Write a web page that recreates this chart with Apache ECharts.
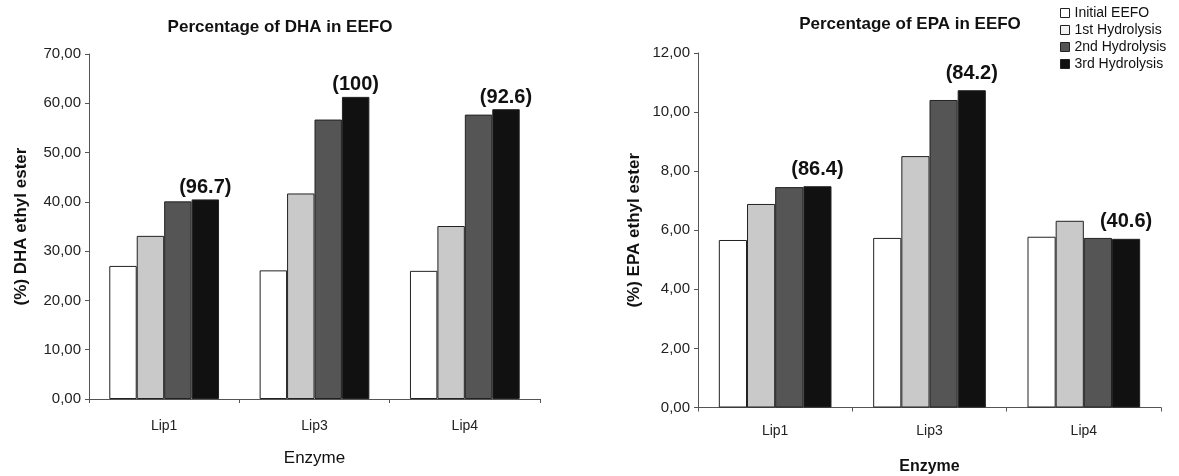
<!DOCTYPE html>
<html>
<head>
<meta charset="utf-8">
<script src="https://cdn.jsdelivr.net/npm/echarts@6/dist/echarts.min.js"></script>
<style>
  html, body { margin: 0; padding: 0; background: #fff; }
  #chart { width: 1179px; height: 476px; }
</style>
</head>
<body>
<div id="chart"></div>
<script>
// categories and series
var enzymes = ['Lip1', 'Lip3', 'Lip4'];
var seriesNames = ['Initial EEFO', '1st Hydrolysis', '2nd Hydrolysis', '3rd Hydrolysis'];

// DHA (%) ethyl ester
var dhaInitial = [27.0, 26.1, 26.0];
var dha1st = [33.1, 41.7, 35.1];
var dha2nd = [40.1, 56.7, 57.7];
var dha3rd = [40.5, 61.3, 58.8];
var dhaNotes = ['(96.7)', '(100)', '(92.6)'];

// EPA (%) ethyl ester
var epaInitial = [5.67, 5.74, 5.78];
var epa1st = [6.89, 8.51, 6.32];
var epa2nd = [7.46, 10.41, 5.74];
var epa3rd = [7.49, 10.74, 5.71];
var epaNotes = ['(86.4)', '(84.2)', '(40.6)'];

var FONT = "'Liberation Sans', Arial, sans-serif";
var fills = ['#ffffff', '#c9c9c9', '#555555', '#111111'];

var chart = echarts.init(document.getElementById('chart'));

function commaFmt(v) {
  return v.toFixed(2).replace('.', ',');
}

function yAxisFor(gridIndex, max, interval, name, gap) {
  return {
    gridIndex: gridIndex,
    type: 'value',
    min: 0,
    max: max,
    interval: interval,
    name: name,
    nameLocation: 'middle',
    nameGap: gap,
    nameTextStyle: { fontFamily: FONT, fontSize: 17, fontWeight: 'bold', color: '#111' },
    axisLine: { show: true, lineStyle: { color: '#555', width: 1 } },
    axisTick: { show: true, length: 4, lineStyle: { color: '#555' } },
    axisLabel: { margin: 8, fontFamily: FONT, fontSize: 15, color: '#222', formatter: commaFmt },
    splitLine: { show: false }
  };
}

function xAxisFor(gridIndex, bold, margin, gap) {
  return {
    gridIndex: gridIndex,
    type: 'category',
    data: enzymes,
    name: 'Enzyme',
    nameLocation: 'middle',
    nameGap: gap,
    nameTextStyle: { fontFamily: FONT, fontSize: bold ? 16 : 17, fontWeight: bold ? 'bold' : 'normal', color: '#111' },
    axisLine: { lineStyle: { color: '#555', width: 1 } },
    axisTick: { show: true, length: 4, lineStyle: { color: '#555' } },
    axisLabel: { margin: margin, fontFamily: FONT, fontSize: 14, color: '#222' }
  };
}

function barSeries(i, xi, data, notes, dist) {
  var s = {
    name: seriesNames[i],
    type: 'bar',
    xAxisIndex: xi,
    yAxisIndex: xi,
    data: data,
    barGap: '0%',
    barCategoryGap: '27%',
    itemStyle: { color: fills[i], borderColor: '#222', borderWidth: 1 }
  };
  if (notes) {
    s.label = {
      show: true,
      position: 'top',
      distance: dist,
      fontFamily: FONT,
      fontSize: 20,
      fontWeight: 'bold',
      color: '#111',
      formatter: function (p) { return notes[p.dataIndex]; }
    };
  }
  return s;
}

var option = {
  backgroundColor: '#fff',
  animation: false,
  title: [
    { text: 'Percentage of DHA in EEFO', left: 275, top: 14, textAlign: 'center',
      textStyle: { fontFamily: FONT, fontSize: 17, fontWeight: 'bold', color: '#111' } },
    { text: 'Percentage of EPA in EEFO', left: 905, top: 11, textAlign: 'center',
      textStyle: { fontFamily: FONT, fontSize: 17, fontWeight: 'bold', color: '#111' } }
  ],
  legend: {
    orient: 'vertical',
    left: 1055,
    top: 1,
    itemWidth: 9,
    itemHeight: 9,
    itemGap: 3,
    icon: 'rect',
    textStyle: { fontFamily: FONT, fontSize: 14, color: '#111' },
    data: [
      { name: seriesNames[0], itemStyle: { color: '#fff', borderColor: '#222', borderWidth: 1 } },
      { name: seriesNames[1], itemStyle: { color: '#f2f2f2', borderColor: '#222', borderWidth: 1 } },
      { name: seriesNames[2], itemStyle: { color: '#555', borderColor: '#222', borderWidth: 1 } },
      { name: seriesNames[3], itemStyle: { color: '#111', borderColor: '#222', borderWidth: 1 } }
    ]
  },
  grid: [
    { left: 89, right: 1179 - 540, top: 54, bottom: 476 - 399, outerBoundsMode: 'none' },
    { left: 698, right: 1179 - 1161, top: 53, bottom: 476 - 407.5, outerBoundsMode: 'none' }
  ],
  xAxis: [xAxisFor(0, false, 20, 51), xAxisFor(1, true, 17, 51)],
  yAxis: [
    yAxisFor(0, 70, 10, '(%) DHA ethyl ester', 59),
    yAxisFor(1, 12, 2, '(%) EPA ethyl ester', 55)
  ],
  series: [
    barSeries(0, 0, dhaInitial),
    barSeries(1, 0, dha1st),
    barSeries(2, 0, dha2nd),
    barSeries(3, 0, dha3rd, dhaNotes, 2),
    barSeries(0, 1, epaInitial),
    barSeries(1, 1, epa1st),
    barSeries(2, 1, epa2nd),
    barSeries(3, 1, epa3rd, epaNotes, 7)
  ]
};

chart.setOption(option);
</script>
</body>
</html>
